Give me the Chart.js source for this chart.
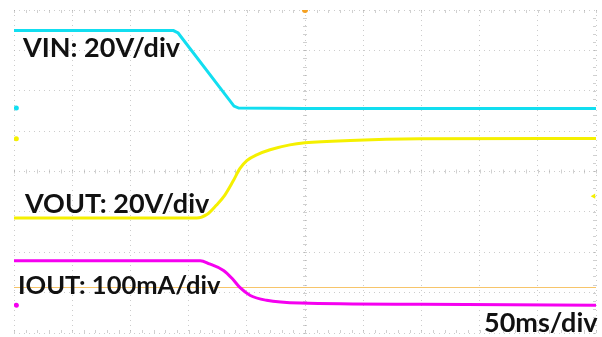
<!DOCTYPE html>
<html>
<head>
<meta charset="utf-8">
<script src="https://cdn.jsdelivr.net/npm/chart.js@4"></script>
<style>
  body { margin: 0; background: #fff; }
  #wrap { position: relative; width: 602px; height: 337px; }
  .lbl { position: absolute; font-family: Lato, "Open Sans", sans-serif; font-weight: 700;
         font-size: 27px; color: #111; white-space: nowrap; line-height: 1; }
</style>
</head>
<body>
<div id="wrap">
  <canvas id="scope" width="602" height="337"></canvas>
  <div class="lbl" style="left:23px;top:33px;">VIN: 20V/div</div>
  <div class="lbl" style="left:25px;top:189px;">VOUT: 20V/div</div>
  <div class="lbl" style="left:18px;top:272px;font-size:25.5px;">IOUT: 100mA/div</div>
  <div class="lbl" style="left:484px;top:308px;">50ms/div</div>
</div>
<script>
// Time axis in ms (50ms/div, 10 divisions), vertical axis in divisions (8 divisions)
const timeTicks = [-250, -200, -150, -100, -50, 0, 50, 100, 150, 200, 250];

// VIN trace (cyan)
const vinTime = [-250, -113, -109, -61, -57, 0, 250];
const vinDiv  = [3.49, 3.49, 3.43, 1.62, 1.57, 1.56, 1.56];

// VOUT trace (yellow)
const voutTime = [-250, -93, -84, -76, -69, -62, -56, -50, -41, -30, -13, 0, 39, 99, 250];
const voutDiv  = [-1.15, -1.15, -1.06, -0.83, -0.59, -0.25, 0.07, 0.27, 0.42, 0.54, 0.66, 0.71, 0.77, 0.81, 0.82];

// IOUT trace (magenta)
const ioutTime = [-250, -90, -82, -70, -62, -56, -47, -33, -4, 100, 250];
const ioutDiv  = [-2.21, -2.21, -2.29, -2.45, -2.67, -2.87, -3.07, -3.19, -3.26, -3.29, -3.31];

// Channel level markers and trigger level
const markerTime = [-248, -248, -248];
const markerDiv  = [1.57, 0.81, -3.31];
const markerColor = ['#12def0', '#f5f000', '#f500f0'];
const triggerLevel = -2.87;
const vout2Marker = [248, -0.61];

function pts(xs, ys) {
  return xs.map((x, i) => ({ x: x, y: ys[i] }));
}

// draws the small tick marks on the centre cross and border of the graticule
const graticule = {
  id: 'graticule',
  beforeDatasetsDraw(chart) {
    const { ctx, scales: { x, y } } = chart;
    ctx.save();
    ctx.strokeStyle = 'rgba(170,170,170,0.55)';
    ctx.lineWidth = 1;
    const cx = x.getPixelForValue(0), cy = y.getPixelForValue(0);
    for (let t = -250; t <= 250; t += 10) {
      const px = Math.round(x.getPixelForValue(t)) + 0.5;
      ctx.beginPath(); ctx.moveTo(px, cy - 2); ctx.lineTo(px, cy + 2); ctx.stroke();
      ctx.beginPath(); ctx.moveTo(px, y.top); ctx.lineTo(px, y.top + 3); ctx.stroke();
      ctx.beginPath(); ctx.moveTo(px, y.bottom); ctx.lineTo(px, y.bottom - 3); ctx.stroke();
    }
    for (let d = -4; d <= 4; d += 0.2) {
      const py = Math.round(y.getPixelForValue(d)) + 0.5;
      ctx.beginPath(); ctx.moveTo(cx - 2, py); ctx.lineTo(cx + 2, py); ctx.stroke();
      ctx.beginPath(); ctx.moveTo(x.right, py); ctx.lineTo(x.right - 3, py); ctx.stroke();
    }
    // trigger level line
    ctx.strokeStyle = '#f7c56a';
    const ty = Math.round(y.getPixelForValue(triggerLevel)) + 0.5;
    ctx.beginPath(); ctx.moveTo(x.left, ty); ctx.lineTo(x.right, ty); ctx.stroke();
    ctx.restore();
  }
};

new Chart(document.getElementById('scope'), {
  type: 'line',
  data: {
    datasets: [
      { data: pts(vinTime, vinDiv), borderColor: '#12def0', borderWidth: 3, pointRadius: 0, tension: 0 },
      { data: pts(voutTime, voutDiv), borderColor: '#f5f000', borderWidth: 3, pointRadius: 0, cubicInterpolationMode: 'monotone' },
      { data: pts(ioutTime, ioutDiv), borderColor: '#f500f0', borderWidth: 3, pointRadius: 0, cubicInterpolationMode: 'monotone' },
      { type: 'scatter', data: pts(markerTime, markerDiv), pointBackgroundColor: markerColor, pointBorderWidth: 0, pointRadius: 2.5 },
      { type: 'scatter', data: [{ x: vout2Marker[0], y: vout2Marker[1] }], pointStyle: 'triangle', rotation: -90,
        pointBackgroundColor: '#f5f000', pointBorderWidth: 0, pointRadius: 3 },
      { type: 'scatter', data: [{ x: 0, y: 4 }], pointBackgroundColor: '#f5a020', pointBorderWidth: 0, pointRadius: 3 }
    ]
  },
  options: {
    responsive: false,
    animation: false,
    layout: { padding: { left: 14, right: 6, top: 10, bottom: 1 } },
    plugins: { legend: { display: false }, tooltip: { enabled: false } },
    scales: {
      x: {
        type: 'linear', min: -250, max: 250,
        afterBuildTicks: s => { s.ticks = timeTicks.map(v => ({ value: v })); },
        ticks: { display: false },
        border: { display: false, dash: [1, 4] },
        grid: { drawTicks: false, color: 'rgba(170,170,170,0.6)', lineWidth: 1 }
      },
      y: {
        min: -4, max: 4,
        ticks: { display: false, stepSize: 1 },
        border: { display: false, dash: [1, 4] },
        grid: { drawTicks: false, color: 'rgba(170,170,170,0.6)', lineWidth: 1 }
      }
    }
  },
  plugins: [graticule]
});
</script>
</body>
</html>
